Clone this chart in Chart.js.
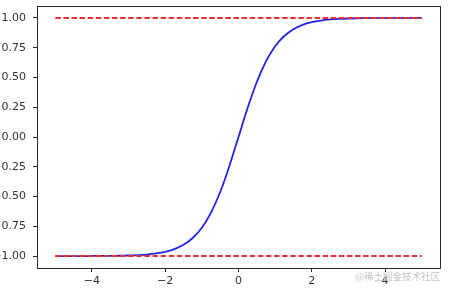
<!DOCTYPE html>
<html>
<head>
<meta charset="utf-8">
<script src="https://cdn.jsdelivr.net/npm/chart.js@4"></script>
<style>
  html, body { margin: 0; padding: 0; background: #ffffff; }
  #wrap { position: relative; width: 449px; height: 291px; overflow: hidden; }
  #wm { position: absolute; left: 355px; top: 272px; font-family: "Noto Sans CJK SC", sans-serif; font-size: 9.5px; line-height: 1; color: #c4c4c4; white-space: nowrap; }
</style>
</head>
<body>
<div id="wrap">
  <canvas id="c" width="449" height="291"></canvas>
  <div id="wm">@稀土掘金技术社区</div>
</div>
<script>
// ---- data ----
const xValues = [-5, -4.75, -4.5, -4.25, -4, -3.75, -3.5, -3.25, -3, -2.75, -2.5, -2.25, -2, -1.75, -1.5, -1.25, -1, -0.75, -0.5, -0.25,
                 0, 0.25, 0.5, 0.75, 1, 1.25, 1.5, 1.75, 2, 2.25, 2.5, 2.75, 3, 3.25, 3.5, 3.75, 4, 4.25, 4.5, 4.75, 5];
const curveValues = [-1.000, -1.000, -1.000, -1.000, -0.999, -0.999, -0.998, -0.997, -0.995, -0.992, -0.987, -0.978, -0.964, -0.941, -0.905, -0.848, -0.762, -0.635, -0.462, -0.245,
                     0.000, 0.245, 0.462, 0.635, 0.762, 0.848, 0.905, 0.941, 0.964, 0.978, 0.987, 0.992, 0.995, 0.997, 0.998, 0.999, 0.999, 1.000, 1.000, 1.000, 1.000];
const refX = [-5, 5];
const upperRef = [1, 1];
const lowerRef = [-1, -1];
const xTickValues = [-4, -2, 0, 2, 4];
const xTickLabels = ["\u22124", "\u22122", "0", "2", "4"];
const yTickValues = [-1, -0.75, -0.5, -0.25, 0, 0.25, 0.5, 0.75, 1];
const yTickLabels = ["\u22121.00", "\u22120.75", "\u22120.50", "\u22120.25", "0.00", "0.25", "0.50", "0.75", "1.00"];

const toPoints = (xs, ys) => xs.map((x, i) => ({ x: x, y: ys[i] }));

const frameColor = '#2b2b2b';
const tickFont = { family: '"DejaVu Sans", sans-serif', size: 11 };

const framePlugin = {
  id: 'frame',
  afterDraw(chart) {
    const { ctx, chartArea: a } = chart;
    ctx.save();
    ctx.strokeStyle = frameColor;
    ctx.lineWidth = 1;
    ctx.strokeRect(Math.round(a.left) + 0.5, Math.round(a.top) + 0.5, Math.round(a.right - a.left), Math.round(a.bottom - a.top));
    ctx.restore();
  }
};

new Chart(document.getElementById('c'), {
  type: 'line',
  data: {
    datasets: [
      { data: toPoints(xValues, curveValues), borderColor: '#2323e6', borderWidth: 1.8, pointRadius: 0, cubicInterpolationMode: 'monotone', order: 2 },
      { data: toPoints(refX, upperRef), borderColor: '#e8302f', borderWidth: 2, borderDash: [5.5, 2.6], pointRadius: 0, order: 1 },
      { data: toPoints(refX, lowerRef), borderColor: '#e8302f', borderWidth: 2, borderDash: [5.5, 2.6], pointRadius: 0, order: 1 }
    ]
  },
  options: {
    responsive: false,
    animation: false,
    layout: { padding: { left: 0, top: 6, right: 9, bottom: 0 } },
    plugins: { legend: { display: false }, tooltip: { enabled: false } },
    scales: {
      x: {
        type: 'linear',
        min: -5.5, max: 5.5,
        afterBuildTicks: (s) => { s.ticks = xTickValues.map(v => ({ value: v })); },
        afterFit: (s) => { s.height = 23; s.paddingLeft = 0; s.paddingRight = 0; },
        grid: { display: true, drawOnChartArea: false, drawTicks: true, tickLength: 4, color: frameColor },
        border: { display: true, color: frameColor, width: 1 },
        ticks: {
          color: '#333333', font: tickFont, padding: 3, maxRotation: 0, autoSkip: false,
          callback: (v) => { const i = xTickValues.indexOf(v); return i >= 0 ? xTickLabels[i] : ''; }
        }
      },
      y: {
        type: 'linear',
        min: -1.1, max: 1.1,
        afterBuildTicks: (s) => { s.ticks = yTickValues.map(v => ({ value: v })); },
        afterFit: (s) => { s.width = 37; s.paddingTop = 0; s.paddingBottom = 0; },
        grid: { display: true, drawOnChartArea: false, drawTicks: true, tickLength: 4, color: frameColor },
        border: { display: true, color: frameColor, width: 1 },
        ticks: {
          color: '#333333', font: tickFont, padding: 7, autoSkip: false,
          callback: (v) => { const i = yTickValues.findIndex(t => Math.abs(t - v) < 1e-9); return i >= 0 ? yTickLabels[i] : ''; }
        }
      }
    }
  },
  plugins: [framePlugin]
});
</script>
</body>
</html>
